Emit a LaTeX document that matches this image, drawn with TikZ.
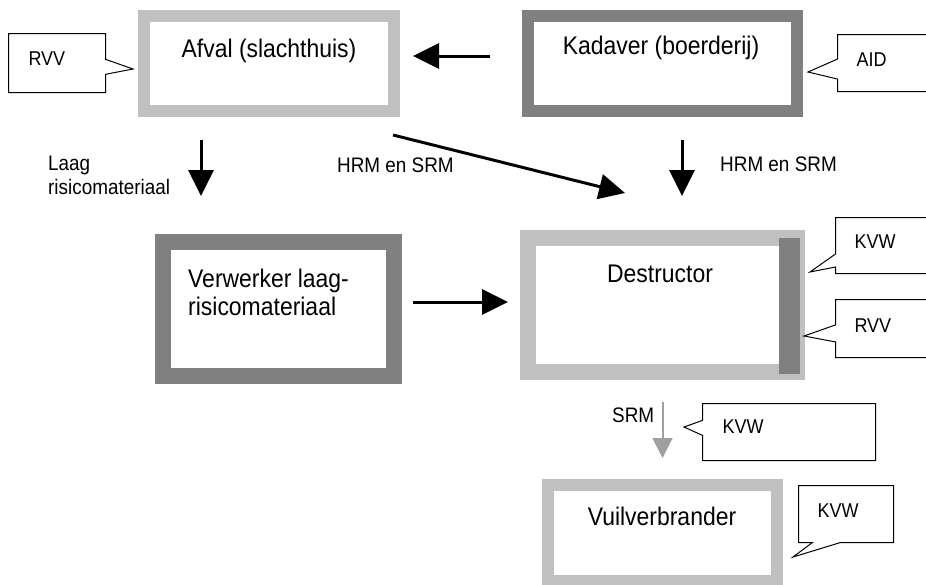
\documentclass[tikz,border=0pt]{standalone}
\usepackage{fontspec}
\setmainfont{Liberation Sans}[FakeStretch=0.9]
\usetikzlibrary{positioning,arrows.meta,shapes.callouts}

\definecolor{lightframe}{HTML}{C0C0C0}
\definecolor{darkframe}{HTML}{808080}
\definecolor{srmgray}{HTML}{A0A0A0}

\begin{document}
\begin{tikzpicture}[x=1pt, y=-1pt,
    frame/.style={draw=#1, line width=12pt, inner sep=0pt},
    boxtext/.style={font=\fontsize{25.5}{28}\selectfont, inner sep=0pt},
    lbl/.style={font=\fontsize{21}{24}\selectfont, inner sep=0pt, align=left},
    note/.style={rectangle callout, draw, line width=1pt, fill=white,
        font=\fontsize{20}{22}\selectfont, inner ysep=0pt, inner xsep=19pt,
        align=left, anchor=north west},
    flow/.style={-{Triangle[length=26pt,width=25pt]}, line width=3pt},
    srmflow/.style={-{Triangle[length=20pt,width=20pt]}, line width=2pt, color=srmgray}]
    \useasboundingbox (0,0) rectangle (926,584);

    % frames
    \node[frame=lightframe, minimum width=250pt, minimum height=95pt] (afval) at (269,63.5) {};
    \node[frame=darkframe, minimum width=269pt, minimum height=95pt] (kadaver) at (662.5,63.5) {};
    \node[frame=darkframe, line width=16pt, minimum width=231pt, minimum height=134pt] (verwerker) at (278.5,309) {};
    \node[frame=lightframe, line width=16pt, minimum width=269pt, minimum height=134pt] (destructor) at (662.5,305) {};
    \node[frame=lightframe, minimum width=229pt, minimum height=96pt] (vuil) at (662.5,533) {};
    \fill[darkframe] ([xshift=-26pt,yshift=-8pt]destructor.north east) rectangle ([xshift=-5pt,yshift=6pt]destructor.south east);

    % box texts
    \node[boxtext, anchor=base] (afvaltxt) at (269,57) {Afval (slachthuis)};
    \node[boxtext, anchor=base] (kadavertxt) at (661,54) {Kadaver (boerderij)};
    \node[boxtext, anchor=north west, align=left] (verwerkertxt) at (188,269) {Verwerker laag-\\risicomateriaal};
    \node[boxtext, anchor=base] (destructortxt) at (660,282) {Destructor};
    \node[boxtext, anchor=base] (vuiltxt) at (662,525) {Vuilverbrander};

    % callouts
    \node[note, inner xsep=20pt, text width=57pt, text height=32pt, text depth=27pt,
        callout pointer width=15pt, callout absolute pointer={(133,69)}] (rvvtop) at (8,33) {RVV};
    \node[note, text width=82pt, text height=32pt, text depth=25pt,
        callout pointer width=20pt, callout absolute pointer={(808,72)}] (aid) at (837,34) {AID};
    \node[note, text width=82pt, text height=31pt, text depth=25pt,
        callout pointer width=13pt, callout absolute pointer={(810,272)}] (kvwright) at (835,217) {KVW};
    \node[note, text width=82pt, text height=33pt, text depth=25pt,
        callout pointer width=17pt, callout absolute pointer={(804,336)}] (rvvright) at (835,299) {RVV};
    \node[note, inner xsep=20pt, text width=133pt, text height=30pt, text depth=27pt,
        callout pointer width=15pt, callout absolute pointer={(684,427)}] (kvwsrm) at (702,403) {KVW};
    \node[note, text width=57pt, text height=32pt, text depth=25pt,
        callout pointer width=28pt, callout absolute pointer={(793,557)}] (kvwvuil) at (798,485) {KVW};

    % labels
    \node[lbl, anchor=north west] (laag) at (48,156) {Laag\\risicomateriaal};
    \node[lbl, anchor=base west] (hrmleft) at (337,172) {HRM en SRM};
    \node[lbl, anchor=base west] (hrmright) at (720,171) {HRM en SRM};
    \node[lbl, anchor=base west] (srm) at (612,422) {SRM};

    % arrows
    \draw[flow, shorten <=32pt, shorten >=13pt] ([yshift=7.5pt]kadaver.west) -- ([yshift=7.5pt]afval.east);
    \draw[flow, shorten <=23pt, shorten >=38pt] ([xshift=-68pt]afval.south) -- ([xshift=-68pt]afval.south |- verwerker.north);
    \draw[flow] ([xshift=-7pt,yshift=-18pt]afval.south east) -- ([xshift=-37.5pt,yshift=37pt]destructor.north);
    \draw[flow, shorten <=23pt, shorten >=34pt] ([xshift=19.5pt]kadaver.south) -- ([xshift=19.5pt]kadaver.south |- destructor.north);
    \draw[flow, shorten <=11pt, shorten >=12pt] ([yshift=7pt]verwerker.east) -- ([yshift=7pt]verwerker.east -| destructor.west);
    \draw[srmflow, shorten <=22pt, shorten >=21pt] (destructor.south) -- (vuil.north);
\end{tikzpicture}
\end{document}
